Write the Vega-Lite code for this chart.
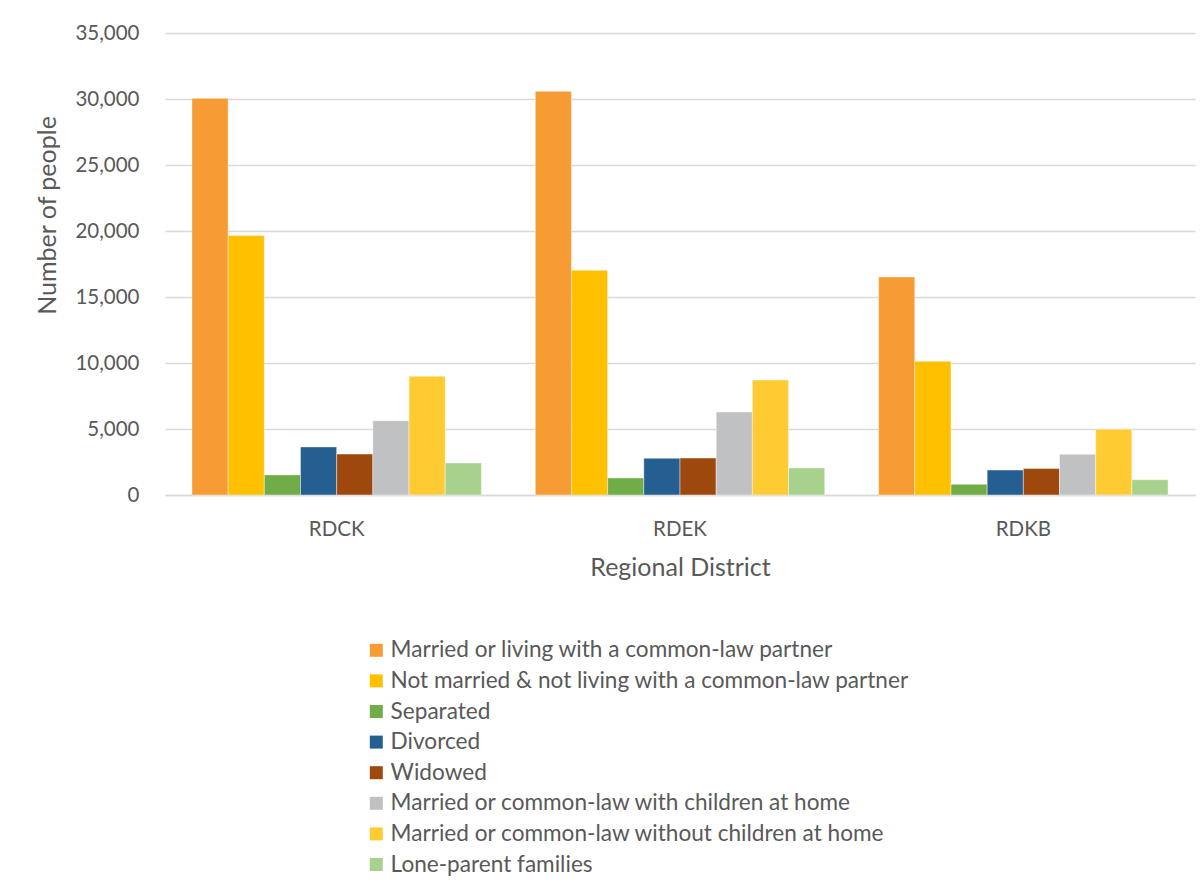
{
  "$schema": "https://vega.github.io/schema/vega-lite/v6.json",
  "width": 1030,
  "height": 462,
  "autosize": {"type": "none"},
  "padding": {"left": 165, "top": 33, "right": 7, "bottom": 393},
  "background": "#ffffff",
  "config": {
    "view": {"stroke": null},
    "font": "Lato",
    "axis": {"labelColor": "#595959", "titleColor": "#595959", "labelFont": "Lato", "titleFont": "Lato", "labelFontSize": 20.5, "titleFontSize": 25, "titleFontWeight": "normal"},
    "legend": {"labelColor": "#595959", "labelFont": "Lato", "labelFontSize": 22.6}
  },
  "data": {
    "values": [
      {"district": "RDCK", "status": "Married or living with a common-law partner", "people": 30050},
      {"district": "RDCK", "status": "Not married & not living with a common-law partner", "people": 19650},
      {"district": "RDCK", "status": "Separated", "people": 1520},
      {"district": "RDCK", "status": "Divorced", "people": 3640},
      {"district": "RDCK", "status": "Widowed", "people": 3100},
      {"district": "RDCK", "status": "Married or common-law with children at home", "people": 5630},
      {"district": "RDCK", "status": "Married or common-law without children at home", "people": 9000},
      {"district": "RDCK", "status": "Lone-parent families", "people": 2430},
      {"district": "RDEK", "status": "Married or living with a common-law partner", "people": 30580},
      {"district": "RDEK", "status": "Not married & not living with a common-law partner", "people": 17020},
      {"district": "RDEK", "status": "Separated", "people": 1290},
      {"district": "RDEK", "status": "Divorced", "people": 2780},
      {"district": "RDEK", "status": "Widowed", "people": 2800},
      {"district": "RDEK", "status": "Married or common-law with children at home", "people": 6290},
      {"district": "RDEK", "status": "Married or common-law without children at home", "people": 8710},
      {"district": "RDEK", "status": "Lone-parent families", "people": 2050},
      {"district": "RDKB", "status": "Married or living with a common-law partner", "people": 16520},
      {"district": "RDKB", "status": "Not married & not living with a common-law partner", "people": 10130},
      {"district": "RDKB", "status": "Separated", "people": 810},
      {"district": "RDKB", "status": "Divorced", "people": 1890},
      {"district": "RDKB", "status": "Widowed", "people": 2000},
      {"district": "RDKB", "status": "Married or common-law with children at home", "people": 3080},
      {"district": "RDKB", "status": "Married or common-law without children at home", "people": 4980},
      {"district": "RDKB", "status": "Lone-parent families", "people": 1160}
    ]
  },
  "mark": {"type": "bar", "stroke": "#ffffff", "strokeWidth": 0.6, "strokeOpacity": 0.7},
  "encoding": {
    "x": {
      "field": "district", "type": "nominal",
      "scale": {"paddingInner": 0.157, "paddingOuter": 0.0785},
      "axis": {"title": "Regional District", "labelAngle": 0, "ticks": false, "domainColor": "#d9d9d9", "domainWidth": 1.5, "labelPadding": 24, "titlePadding": 16}
    },
    "xOffset": {
      "field": "status", "type": "nominal",
      "sort": ["Married or living with a common-law partner", "Not married & not living with a common-law partner", "Separated", "Divorced", "Widowed", "Married or common-law with children at home", "Married or common-law without children at home", "Lone-parent families"],
      "scale": {"paddingInner": 0, "paddingOuter": 0}
    },
    "y": {
      "field": "people", "type": "quantitative",
      "scale": {"domain": [0, 35000], "nice": false},
      "axis": {"title": "Number of people", "values": [0, 5000, 10000, 15000, 20000, 25000, 30000, 35000], "labelOverlap": false, "labelFlush": false, "format": ",d", "ticks": false, "domain": false, "gridColor": "#d9d9d9", "gridWidth": 1.5, "labelPadding": 26, "titlePadding": 14, "titleY": 182}
    },
    "color": {
      "field": "status", "type": "nominal",
      "sort": ["Married or living with a common-law partner", "Not married & not living with a common-law partner", "Separated", "Divorced", "Widowed", "Married or common-law with children at home", "Married or common-law without children at home", "Lone-parent families"],
      "scale": {
        "domain": ["Married or living with a common-law partner", "Not married & not living with a common-law partner", "Separated", "Divorced", "Widowed", "Married or common-law with children at home", "Married or common-law without children at home", "Lone-parent families"],
        "range": ["#F79C35", "#FFC000", "#70AD47", "#255E91", "#9E480E", "#C0C1C2", "#FFCB33", "#A9D18E"]
      },
      "legend": {"title": null, "orient": "none", "legendX": 200, "legendY": 606, "symbolType": "square", "symbolSize": 169, "symbolStrokeWidth": 0, "rowPadding": 7.6, "labelOffset": 3, "labelLimit": 700}
    }
  }
}
